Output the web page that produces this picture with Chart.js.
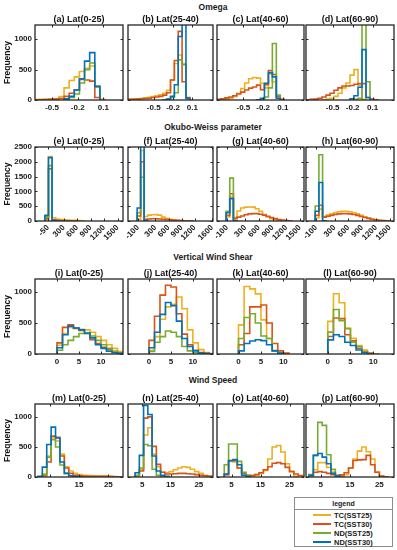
<!DOCTYPE html>
<html><head><meta charset="utf-8">
<script src="https://cdn.jsdelivr.net/npm/chart.js@4.4.1/dist/chart.umd.min.js"></script>
<style>
body{margin:0;width:397px;height:550px;background:#fff;position:relative;overflow:hidden;font-family:"Liberation Sans",Arial,Helvetica,sans-serif;color:#1a1a1a;}
.sec{position:absolute;left:113px;width:200px;text-align:center;font-weight:bold;font-size:8.5px;line-height:10px;white-space:nowrap;}
.wrap{position:absolute;}
#legend{position:absolute;left:294px;top:497px;width:99px;height:50px;border:1px solid #8c8c8c;box-sizing:border-box;font-weight:bold;font-size:7.5px;background:#fff;}
#legend .lh{position:absolute;left:0;right:0;top:0;height:11px;line-height:11px;text-align:center;border-bottom:1px solid #8c8c8c;font-size:7px;}
#legend .li{position:absolute;left:0;right:0;height:9px;line-height:9px;}
#legend .ln{position:absolute;left:18px;top:3.6px;width:18px;height:1.8px;}
#legend .lt{position:absolute;left:39px;top:0;}
</style></head><body>

<div class="sec" style="top:2px">Omega</div>
<div class="sec" style="top:121.5px">Okubo-Weiss parameter</div>
<div class="sec" style="top:252px">Vertical Wind Shear</div>
<div class="sec" style="top:374.5px">Wind Speed</div>

<div id="legend">
  <div class="lh">legend</div>
</div>

<script>
// ---------------- data ----------------
const SERIES_NAMES = ['TC(SST25)','TC(SST30)','ND(SST25)','ND(SST30)'];
const SERIES_COLORS = ['#EDB120','#D95319','#77AC30','#0072BD'];

// bin edges
const OMEGA_EDGES = [-0.90,-0.84,-0.78,-0.72,-0.66,-0.60,-0.54,-0.48,-0.42,-0.36,-0.30,-0.24,-0.18,-0.12,-0.06,0.00,0.06,0.12,0.18,0.24,0.30,0.36,0.42];
const OW_EDGES = [-120,-40,40,120,200,280,360,440,520,600,680,760,840,920,1000,1080,1160,1240,1320,1400,1480,1560];
const SHEAR_EDGES = [0,1.25,2.5,3.75,5,6.25,7.5,8.75,10,11.25,12.5,13.75,15];
const SPEED_EDGES = [1,2.5,4,5.5,7,8.5,10,11.5,13,14.5,16,17.5,19,20.5,22,23.5,25,26.5,28,29.5];

// tick labels
const OMEGA_TICKS = [-0.5,-0.2,0.1];
const OW_TICKS_E = [-50,300,600,900,1200,1500];
const OW_TICKS_F = [-100,300,600,900,1200,1600];
const OW_TICKS_GH = [-100,300,600,900,1200,1500];
const SHEAR_TICKS = [0,5,10];
const SPEED_TICKS = [5,15,25];
const FREQ_TICKS_1000 = [0,500,1000];
const FREQ_TICKS_2500 = [0,500,1000,1500,2000,2500];

// Omega
const A_TC25 = [0,0,0,8,10,12,15,20,55,200,320,380,470,520,560,220,10,0,0,0,0,0];
const A_TC30 = [0,0,0,5,5,8,10,15,25,60,110,170,340,330,310,40,0,0,0,0,0,0];
const A_ND25 = [0,0,0,0,0,0,0,0,0,10,40,100,280,500,610,230,0,0,0,0,0,0];
const A_ND30 = [0,0,0,0,0,0,0,0,0,20,60,165,350,640,780,220,0,0,0,0,0,0];
const B_TC25 = [10,15,20,25,35,45,55,70,85,110,160,330,600,740,600,30,0,0,0,0,0,0];
const B_TC30 = [10,12,15,20,25,30,40,50,60,80,120,330,650,1130,300,40,0,0,0,0,0,0];
const B_ND25 = [0,0,0,0,0,0,0,0,0,0,10,40,120,660,580,20,0,0,0,0,0,0];
const B_ND30 = [0,0,0,0,0,0,0,0,0,5,15,60,250,1045,1500,30,0,0,0,0,0,0];
const C_TC25 = [0,5,15,30,60,110,190,280,350,370,360,275,200,430,300,30,0,0,0,0,0,0];
const C_TC30 = [10,20,35,50,70,100,130,165,195,215,245,170,250,485,420,60,10,0,0,0,0,0];
const C_ND25 = [0,0,0,0,0,0,0,0,0,0,0,10,50,200,930,80,0,0,0,0,0,0];
const C_ND30 = [0,0,0,0,0,0,0,0,0,0,5,30,275,450,380,30,0,0,0,0,0,0];
const D_TC25 = [0,0,0,0,5,15,30,60,110,200,280,410,500,240,10,0,0,0,0,0,0,0];
const D_TC30 = [5,10,15,30,50,80,110,160,200,230,230,240,260,270,270,40,15,5,0,0,0,0];
const D_ND25 = [0,0,0,0,0,0,0,0,0,0,0,0,10,30,1500,300,0,0,0,0,0,0];
const D_ND30 = [0,0,0,0,0,0,0,0,0,0,0,20,70,210,830,40,0,0,0,0,0,0];

// Okubo-Weiss
const E_TC25 = [40,2180,110,70,50,40,30,25,20,15,10];
const E_TC30 = [80,1760,40,25,15,10,10,8,5];
const E_ND25 = [140,1870,15];
const E_ND30 = [190,2140,20,5];
const F_TC25 = [60,2380,150,200,210,215,200,130,90,60,40,25,15,10,5];
const F_TC30 = [170,2000,60,70,75,75,70,60,50,40,30,20,15,10,5,3];
const F_ND25 = [280,1480,10];
const F_ND30 = [440,2900,15];
const G_TC25 = [135,810,120,340,440,470,475,470,415,330,215,135,80,50,25,10];
const G_TC30 = [190,920,80,130,170,210,240,250,250,230,200,160,120,80,50,30,15,8];
const G_ND25 = [330,1450,10];
const G_ND30 = [280,755,10];
const H_TC25 = [100,400,150,200,240,280,310,330,330,310,280,240,190,140,100,60,30,15];
const H_TC30 = [190,530,130,160,190,220,240,250,250,240,220,190,150,120,90,60,40,25,15,8];
const H_ND25 = [505,2240,10];
const H_ND30 = [330,1300,10];

// Vertical wind shear
const I_TC25 = [140,330,430,410,400,390,350,280,220,150,90,40];
const I_TC30 = [180,430,470,420,380,330,230,170,110,70,40,20];
const I_ND25 = [60,150,220,280,330,330,290,220,150,90,45,20];
const I_ND30 = [100,310,450,420,390,340,260,150,90,45,20,10];
const J_TC25 = [60,280,560,760,800,920,730,390,180,70,25,8];
const J_TC30 = [220,610,950,1110,1080,650,320,150,60,25,10,5];
const J_ND25 = [40,190,280,370,350,280,120,50,20,8,3];
const J_ND30 = [100,350,640,830,780,530,250,120,50,20,8,3];
const K_TC25 = [470,1090,1050,970,550,250,60,20,5];
const K_TC30 = [150,330,760,760,790,500,170,50,15];
const K_ND25 = [250,590,650,500,290,250,50,10];
const K_ND30 = [50,170,210,230,215,150,50,15];
const L_TC25 = [527,973,826,418,255,136,65,20,5];
const L_TC30 = [283,580,570,310,212,92,38,10];
const L_ND25 = [353,717,538,408,190,120,30,5];
const L_ND30 = [228,310,283,190,136,65,20,5];

// Wind speed
const M_TC25 = [0,50,350,650,600,380,170,100,60,40,30,25,20,15,15,15,10,8,5];
const M_TC30 = [0,20,250,680,660,350,150,60,30,20,15,10,10,10,10,10,8,5,3];
const M_ND25 = [0,40,330,620,500,200,60,20,5];
const M_ND30 = [10,165,540,830,650,250,60,20,10,5];
const N_TC25 = [0,20,120,700,820,380,170,80,70,90,120,150,170,160,130,90,60,30,15];
const N_TC30 = [0,20,100,980,1000,510,210,80,50,50,55,60,60,55,50,40,30,20,10];
const N_ND25 = [0,30,150,540,520,130,30,10];
const N_ND30 = [0,70,360,1190,1040,350,100,30,10];
const O_TC25 = [0,40,260,250,150,60,30,25,40,60,110,300,500,525,415,220,95,10];
const O_TC30 = [0,40,270,270,150,60,30,25,40,70,120,170,230,240,220,160,90,50,25];
const O_ND25 = [0,205,550,550,260,80,20];
const O_ND30 = [0,50,275,290,205,30,10];
const P_TC25 = [10,120,240,240,160,83,20,10,40,150,300,430,500,420,300,83,10];
const P_TC30 = [20,80,90,80,60,40,30,35,70,150,275,285,290,360,205,80,15,5];
const P_ND25 = [40,360,910,860,370,127,20,5];
const P_ND30 = [30,360,390,330,220,60,20];

const PANEL_TITLES = ['(a) Lat(0-25)','(b) Lat(25-40)','(c) Lat(40-60)','(d) Lat(60-90)',
  '(e) Lat(0-25)','(f) Lat(25-40)','(g) Lat(40-60)','(h) Lat(60-90)',
  '(i) Lat(0-25)','(j) Lat(25-40)','(k) Lat(40-60)','(l) Lat(60-90)',
  '(m) Lat(0-25)','(n) Lat(25-40)','(o) Lat(40-60)','(p) Lat(60-90)'];

// ---------------- layout ----------------
const FONT = '"Liberation Sans", Arial, Helvetica, sans-serif';
const COL_X = [35, 128, 217, 306];
const COL_W = [88, 85, 87, 88];
const ROW_Y = [25, 146.7, 279.3, 404.3];
const ROW_H = [75, 74, 74.7, 73.4];
const ROW_YMAX = [1235, 2500, 1210, 1215];
const ROW_YTICKS = [FREQ_TICKS_1000, FREQ_TICKS_2500, FREQ_TICKS_1000, FREQ_TICKS_1000];

const PANELS = [
  {edges:OMEGA_EDGES, xr:[-0.7,0.33], xt:OMEGA_TICKS, s:[A_TC25,A_TC30,A_ND25,A_ND30]},
  {edges:OMEGA_EDGES, xr:[-0.9,0.42], xt:OMEGA_TICKS, s:[B_TC25,B_TC30,B_ND25,B_ND30]},
  {edges:OMEGA_EDGES, xr:[-0.9,0.42], xt:OMEGA_TICKS, s:[C_TC25,C_TC30,C_ND25,C_ND30]},
  {edges:OMEGA_EDGES, xr:[-0.9,0.42], xt:OMEGA_TICKS, s:[D_TC25,D_TC30,D_ND25,D_ND30]},
  {edges:OW_EDGES, xr:[-340,1620], xt:OW_TICKS_E, s:[E_TC25,E_TC30,E_ND25,E_ND30]},
  {edges:OW_EDGES, xr:[-330,1620], xt:OW_TICKS_F, s:[F_TC25,F_TC30,F_ND25,F_ND30]},
  {edges:OW_EDGES, xr:[-320,1590], xt:OW_TICKS_GH, s:[G_TC25,G_TC30,G_ND25,G_ND30]},
  {edges:OW_EDGES, xr:[-320,1590], xt:OW_TICKS_GH, s:[H_TC25,H_TC30,H_ND25,H_ND30]},
  {edges:SHEAR_EDGES, xr:[-5,15], xt:SHEAR_TICKS, s:[I_TC25,I_TC30,I_ND25,I_ND30]},
  {edges:SHEAR_EDGES, xr:[-4.8,14.6], xt:SHEAR_TICKS, s:[J_TC25,J_TC30,J_ND25,J_ND30]},
  {edges:SHEAR_EDGES, xr:[-4.8,14.6], xt:SHEAR_TICKS, s:[K_TC25,K_TC30,K_ND25,K_ND30]},
  {edges:SHEAR_EDGES, xr:[-4.8,14.6], xt:SHEAR_TICKS, s:[L_TC25,L_TC30,L_ND25,L_ND30]},
  {edges:SPEED_EDGES, xr:[0,30], xt:SPEED_TICKS, s:[M_TC25,M_TC30,M_ND25,M_ND30]},
  {edges:SPEED_EDGES, xr:[0,30], xt:SPEED_TICKS, s:[N_TC25,N_TC30,N_ND25,N_ND30]},
  {edges:SPEED_EDGES, xr:[0,30], xt:SPEED_TICKS, s:[O_TC25,O_TC30,O_ND25,O_ND30]},
  {edges:SPEED_EDGES, xr:[0,30], xt:SPEED_TICKS, s:[P_TC25,P_TC30,P_ND25,P_ND30]}
];

// histogram outline (stairs) built from bin edges and counts
function stairs(edges, vals) {
  let a = 0, b = vals.length - 1;
  while (a < b && vals[a] === 0) a++;
  while (b > a && vals[b] === 0) b--;
  const pts = [{x: edges[a], y: 0}];
  for (let i = a; i <= b; i++) pts.push({x: edges[i], y: vals[i]});
  pts.push({x: edges[b + 1], y: 0});
  return pts;
}

// axes box, inward tick marks and the panel title centred over the plot area
const boxPlugin = {
  id: 'axbox',
  afterDraw(chart, args, opts) {
    const {ctx, chartArea: ca, scales} = chart;
    ctx.save();
    ctx.strokeStyle = '#262626';
    ctx.lineWidth = 1;
    ctx.beginPath();
    scales.x.ticks.forEach(t => {
      const p = Math.round(scales.x.getPixelForValue(t.value)) + 0.5;
      ctx.moveTo(p, ca.bottom); ctx.lineTo(p, ca.bottom - 2.5);
      ctx.moveTo(p, ca.top); ctx.lineTo(p, ca.top + 2.5);
    });
    scales.y.ticks.forEach(t => {
      const p = Math.round(scales.y.getPixelForValue(t.value)) + 0.5;
      ctx.moveTo(ca.left, p); ctx.lineTo(ca.left + 2.5, p);
      ctx.moveTo(ca.right, p); ctx.lineTo(ca.right - 2.5, p);
    });
    ctx.stroke();
    ctx.lineWidth = 1.3;
    ctx.strokeRect(ca.left, ca.top, ca.right - ca.left, ca.bottom - ca.top);
    if (opts && opts.text) {
      ctx.fillStyle = '#111';
      ctx.font = 'bold 9px ' + FONT;
      ctx.textAlign = 'center';
      ctx.textBaseline = 'middle';
      ctx.fillText(opts.text, (ca.left + ca.right) / 2, ca.top - 5);
    }
    ctx.restore();
  }
};

Chart.defaults.font.family = FONT;
Chart.defaults.color = '#1a1a1a';

PANELS.forEach((p, idx) => {
  const row = Math.floor(idx / 4), col = idx % 4;
  const X = COL_X[col], Y = ROW_Y[row], W = COL_W[col], H = ROW_H[row];
  const showY = col === 0;
  const rot = row === 1;
  const padL = showY ? 35 : 14, padR = 8, padT = 12, padB = rot ? 30 : 16;
  const wrap = document.createElement('div');
  wrap.className = 'wrap';
  const cv = document.createElement('canvas');
  cv.width = W + padL + padR;
  cv.height = H + padT + padB;
  wrap.appendChild(cv);
  document.body.appendChild(wrap);

  const datasets = p.s.map((vals, i) => ({
    label: SERIES_NAMES[i],
    data: stairs(p.edges, vals),
    borderColor: SERIES_COLORS[i],
    backgroundColor: SERIES_COLORS[i],
    borderWidth: 1.6,
    stepped: 'before',
    pointRadius: 0,
    fill: false,
    order: 4 - i
  }));

  const chart = new Chart(cv, {
    type: 'line',
    data: {datasets},
    plugins: [boxPlugin],
    options: {
      responsive: false, maintainAspectRatio: false, animation: false, devicePixelRatio: 1,
      events: [],
      layout: {padding: {left: 0, right: padR, top: padT, bottom: 0}},
      plugins: {
        legend: {display: false},
        tooltip: {enabled: false},
        title: {display: false},
        axbox: {text: PANEL_TITLES[idx]}
      },
      scales: {
        x: {
          type: 'linear', min: p.xr[0], max: p.xr[1],
          grid: {display: false, drawTicks: false}, border: {display: false},
          ticks: {autoSkip: false, minRotation: rot ? 45 : 0, maxRotation: rot ? 45 : 0,
            padding: rot ? 2 : 3, color: '#1a1a1a',
            font: {family: FONT, size: 8, weight: 'bold'},
            callback: v => String(v)},
          afterBuildTicks: s => { s.ticks = p.xt.map(v => ({value: v})); },
          afterFit: s => { s.height = padB; }
        },
        y: {
          min: 0, max: ROW_YMAX[row],
          grid: {display: false, drawTicks: false}, border: {display: false},
          ticks: {display: showY, padding: 3, color: '#1a1a1a',
            font: {family: FONT, size: 8, weight: 'bold'},
            callback: v => String(v)},
          afterBuildTicks: s => { s.ticks = ROW_YTICKS[row].map(v => ({value: v})); },
          afterFit: s => { s.width = padL; },
          title: {display: showY, text: 'Frequency', color: '#111',
            font: {family: FONT, size: 8.5, weight: 'bold', lineHeight: 1},
            padding: {top: 3.5, bottom: 0}}
        }
      }
    }
  });

  for (let it = 0; it < 3; it++) {
    const ca = chart.chartArea;
    const dw = W - (ca.right - ca.left), dh = H - (ca.bottom - ca.top);
    if (Math.abs(dw) < 0.5 && Math.abs(dh) < 0.5) break;
    chart.resize(Math.round(chart.width + dw), Math.round(chart.height + dh));
  }
  const ca = chart.chartArea;
  wrap.style.left = Math.round(X - ca.left) + 'px';
  wrap.style.top = Math.round(Y - ca.top) + 'px';
});

// legend entries
const leg = document.getElementById('legend');
SERIES_NAMES.forEach((name, i) => {
  const d = document.createElement('div');
  d.className = 'li';
  d.style.top = (12.8 + i * 8.9) + 'px';
  d.innerHTML = '<span class="ln" style="background:' + SERIES_COLORS[i] + '"></span><span class="lt">' + name + '</span>';
  leg.appendChild(d);
});
</script>
</body></html>
